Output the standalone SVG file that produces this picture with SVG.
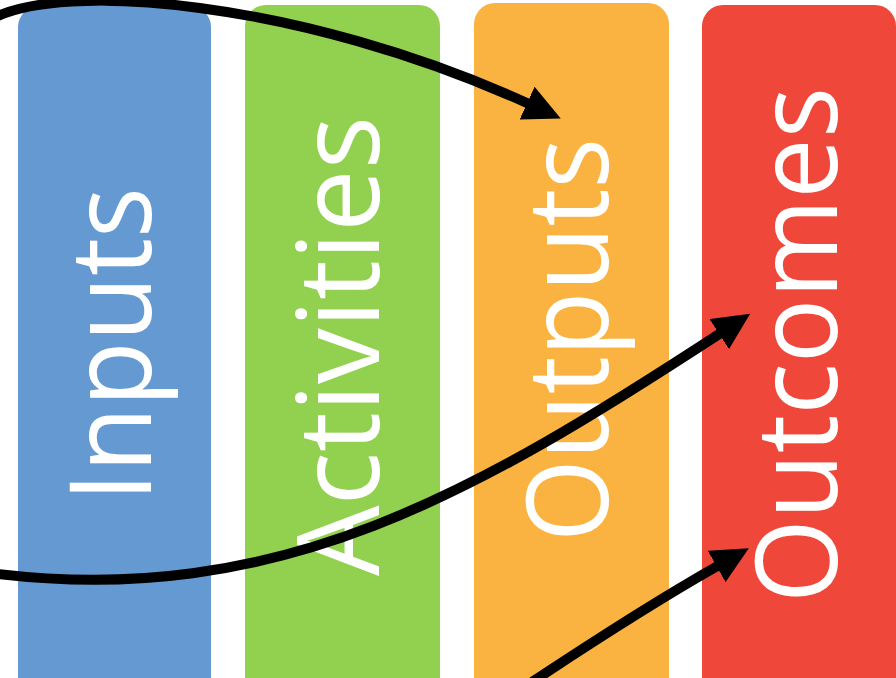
<svg xmlns="http://www.w3.org/2000/svg" width="896" height="678" viewBox="0 0 896 678">
  <defs>
    <marker id="arrowhead" markerUnits="userSpaceOnUse" viewBox="0 -18 38 36" markerWidth="38" markerHeight="36" refX="1" refY="0" orient="auto">
      <path d="M0,-18 L37,0 L0,18 Z" fill="#000"/>
    </marker>
  </defs>
  <style>
    .col { stroke: none; }
    .label { font-family: "Open Sans", "Liberation Sans", sans-serif; font-size: 114px; fill: #ffffff; text-anchor: middle; }
    .flow { fill: none; stroke: #000; stroke-width: 10; marker-end: url(#arrowhead); }
  </style>
  <rect width="896" height="678" fill="#ffffff"/>

  <g id="inputs">
    <rect class="col" x="18" y="6" width="193" height="694" rx="21" fill="#6599D2"/>
    <text class="label" transform="translate(151,344.5) rotate(-90)" textLength="315" lengthAdjust="spacingAndGlyphs">Inputs</text>
  </g>
  <g id="activities">
    <rect class="col" x="245" y="5" width="195" height="695" rx="21" fill="#92D150"/>
    <text class="label" transform="translate(379,346) rotate(-90)" textLength="460" lengthAdjust="spacingAndGlyphs">Activities</text>
  </g>
  <g id="outputs">
    <rect class="col" x="474" y="3" width="195" height="697" rx="21" fill="#FAB340"/>
    <text class="label" transform="translate(608,340) rotate(-90)" textLength="404" lengthAdjust="spacingAndGlyphs">Outputs</text>
  </g>
  <g id="outcomes">
    <rect class="col" x="702" y="5" width="194" height="695" rx="21" fill="#EF483B"/>
    <text class="label" transform="translate(837,345) rotate(-90)" textLength="516" lengthAdjust="spacingAndGlyphs">Outcomes</text>
  </g>

  <g id="connectors">
    <path class="flow" d="M-10,20 C60,-20 300,0 528,103.5"/>
    <path class="flow" d="M-10,573 C280,610 480,490 720,333.5"/>
    <path class="flow" d="M520,690 Q640,610 717.5,566"/>
  </g>
</svg>
